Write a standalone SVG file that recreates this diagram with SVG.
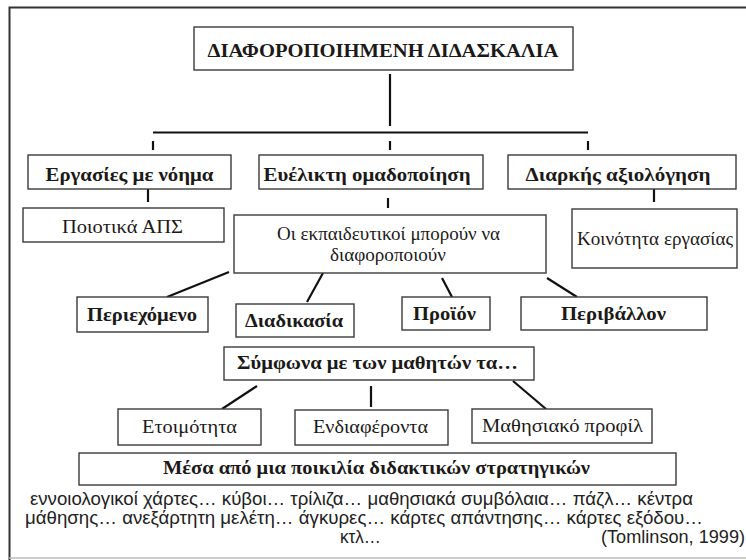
<svg xmlns="http://www.w3.org/2000/svg" width="746" height="560" viewBox="0 0 746 560">
<style>
.box{fill:#fff;stroke:#3a3a3a;stroke-width:1.4}
.b{font-family:"Liberation Serif","DejaVu Serif",serif;font-weight:bold;font-size:19px;fill:#1c1a18;text-anchor:middle}
.r{font-family:"Liberation Serif","DejaVu Serif",serif;font-size:18px;fill:#1c1a18;text-anchor:middle}
.s{font-family:"Liberation Sans","DejaVu Sans",sans-serif;font-size:18px;fill:#222}
.ln{stroke:#111;stroke-width:2.2;fill:none}
</style>
<rect width="746" height="560" fill="#fff"/>
<path d="M746,7.5 H9.5 V560" fill="none" stroke="#333" stroke-width="2"/>
<line x1="9" y1="558" x2="746" y2="558" stroke="#bbb" stroke-width="1.5"/>

<g id="connectors">
<line class="ln" x1="390" y1="74" x2="390" y2="126"/>
<line class="ln" x1="153" y1="132.5" x2="588" y2="132.5"/>
<line class="ln" x1="153" y1="141" x2="153" y2="150" stroke-width="2.6"/>
<line class="ln" x1="390" y1="141" x2="390" y2="150" stroke-width="2.6"/>
<line class="ln" x1="588" y1="141" x2="588" y2="150" stroke-width="2.6"/>
<line class="ln" x1="148" y1="189" x2="148" y2="202"/>
<line class="ln" x1="388" y1="198" x2="388" y2="208"/>
<line class="ln" x1="654" y1="189" x2="654" y2="202"/>
<line class="ln" x1="229" y1="272" x2="167" y2="297"/>
<line class="ln" x1="323" y1="273" x2="307" y2="302"/>
<line class="ln" x1="442" y1="278" x2="452" y2="297"/>
<line class="ln" x1="547" y1="278" x2="577" y2="297"/>
<line class="ln" x1="257" y1="386" x2="222" y2="409"/>
<line class="ln" x1="371" y1="386" x2="371" y2="407"/>
<line class="ln" x1="513" y1="381" x2="546" y2="409"/>
</g>

<g id="title">
<rect class="box" x="194" y="27" width="379" height="43"/>
<text class="b" x="383" y="57" font-size="20" textLength="351" lengthAdjust="spacingAndGlyphs">ΔΙΑΦΟΡΟΠΟΙΗΜΕΝΗ ΔΙΔΑΣΚΑΛΙΑ</text>
</g>
<g id="ergasies">
<rect class="box" x="28" y="155" width="203" height="34"/>
<text class="b" x="129.5" y="181" textLength="168" lengthAdjust="spacingAndGlyphs">Εργασίες με νόημα</text>
</g>
<g id="omadopoiisi">
<rect class="box" x="259" y="155" width="224" height="34"/>
<text class="b" x="367" y="181" textLength="207" lengthAdjust="spacingAndGlyphs">Ευέλικτη ομαδοποίηση</text>
</g>
<g id="axiologisi">
<rect class="box" x="508" y="155" width="228" height="34"/>
<text class="b" x="618" y="181" textLength="185" lengthAdjust="spacingAndGlyphs">Διαρκής αξιολόγηση</text>
</g>
<g id="aps">
<rect class="box" x="23" y="208" width="201" height="34"/>
<text class="r" x="122.5" y="233" textLength="121" lengthAdjust="spacingAndGlyphs">Ποιοτικά ΑΠΣ</text>
</g>
<g id="ekpaideutikoi">
<rect class="box" x="234" y="215" width="312" height="58"/>
<text class="r" x="388.5" y="240" font-size="16" textLength="223" lengthAdjust="spacingAndGlyphs">Οι εκπαιδευτικοί μπορούν να</text>
<text class="r" x="388" y="261" font-size="16" textLength="116" lengthAdjust="spacingAndGlyphs">διαφοροποιούν</text>
</g>
<g id="koinotita">
<rect class="box" x="572" y="209" width="165" height="59"/>
<text class="r" x="655" y="245" font-size="17" textLength="156" lengthAdjust="spacingAndGlyphs">Κοινότητα εργασίας</text>
</g>
<g id="periexomeno">
<rect class="box" x="77" y="297" width="131" height="35"/>
<text class="b" x="142" y="321" textLength="110" lengthAdjust="spacingAndGlyphs">Περιεχόμενο</text>
</g>
<g id="diadikasia">
<rect class="box" x="236" y="304" width="118" height="33"/>
<text class="b" x="294" y="327" textLength="98" lengthAdjust="spacingAndGlyphs">Διαδικασία</text>
</g>
<g id="proion">
<rect class="box" x="402" y="297" width="88" height="33"/>
<text class="b" x="444.5" y="320" textLength="63" lengthAdjust="spacingAndGlyphs">Προϊόν</text>
</g>
<g id="perivallon">
<rect class="box" x="521" y="297" width="186" height="33"/>
<text class="b" x="613.5" y="320" textLength="105" lengthAdjust="spacingAndGlyphs">Περιβάλλον</text>
</g>
<g id="symfona">
<rect class="box" x="224" y="347" width="310" height="33"/>
<text class="b" x="377.5" y="369" textLength="281" lengthAdjust="spacingAndGlyphs">Σύμφωνα με των μαθητών τα…</text>
</g>
<g id="etoimotita">
<rect class="box" x="118" y="409" width="143" height="36"/>
<text class="r" x="189.5" y="433" textLength="95" lengthAdjust="spacingAndGlyphs">Ετοιμότητα</text>
</g>
<g id="endiaferonta">
<rect class="box" x="295" y="410" width="153" height="35"/>
<text class="r" x="370.5" y="433" textLength="115" lengthAdjust="spacingAndGlyphs">Ενδιαφέροντα</text>
</g>
<g id="profil">
<rect class="box" x="472" y="409" width="180" height="34"/>
<text class="r" x="562.5" y="432" textLength="161" lengthAdjust="spacingAndGlyphs">Μαθησιακό προφίλ</text>
</g>
<g id="mesa">
<rect class="box" x="79" y="453" width="597" height="32"/>
<text class="b" x="376.5" y="474" textLength="427" lengthAdjust="spacingAndGlyphs">Μέσα από μια ποικιλία διδακτικών στρατηγικών</text>
</g>
<g id="notes">
<text class="s" x="30" y="505" textLength="663" lengthAdjust="spacingAndGlyphs">εννοιολογικοί χάρτες… κύβοι… τρίλιζα… μαθησιακά συμβόλαια… πάζλ… κέντρα</text>
<text class="s" x="25" y="524" textLength="678" lengthAdjust="spacingAndGlyphs">μάθησης… ανεξάρτητη μελέτη… άγκυρες… κάρτες απάντησης… κάρτες εξόδου…</text>
<text class="s" x="340" y="543" textLength="41" lengthAdjust="spacingAndGlyphs">κτλ…</text>
<text class="s" x="601" y="543" textLength="144" lengthAdjust="spacingAndGlyphs">(Tomlinson, 1999)</text>
</g>
</svg>
